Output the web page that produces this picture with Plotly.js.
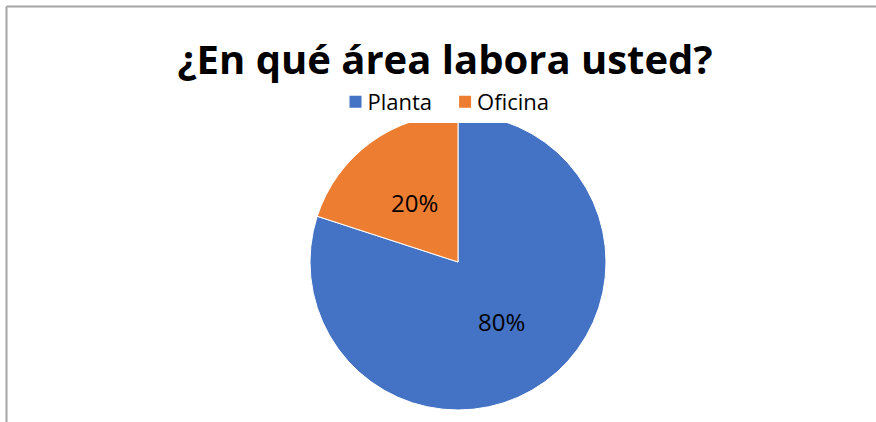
<!DOCTYPE html>
<html>
<head>
<meta charset="utf-8">
<script src="https://cdn.plot.ly/plotly-3.0.1.min.js"></script>
<style>
  html, body { margin: 0; padding: 0; background: #fff; }
  #chart { width: 876px; height: 422px; }
</style>
</head>
<body>
<div id="chart"></div>
<script>
const categories = ["Planta", "Oficina"];
const values = [80, 20];
const colors = ["#4472C4", "#ED7D31"];
const titleText = "¿En qué área labora usted?";

const W = 876, H = 422;
const CX = 458, CY = 262, R = 148;

const trace = {
  type: "pie",
  labels: categories,
  values: values,
  sort: false,
  direction: "clockwise",
  rotation: 0,
  marker: { colors: colors, line: { color: "#ffffff", width: 1 } },
  textinfo: "none",
  hoverinfo: "label+percent",
  domain: { x: [(CX - R) / W, (CX + R) / W], y: [1 - (CY + R) / H, 1 - (CY - R) / H] }
};

// percent labels placed Excel-style at half radius along each slice's mid-angle
const total = values.reduce((a, b) => a + b, 0);
const annotations = [];
let acc = 0;
values.forEach((v, i) => {
  const mid = (acc + v / 2) / total * 2 * Math.PI; // clockwise from 12 o'clock
  acc += v;
  const px = CX + 0.5 * R * Math.sin(mid);
  const py = CY - 0.5 * R * Math.cos(mid);
  annotations.push({
    xref: "paper", yref: "paper",
    x: px / W, y: 1 - py / H,
    xanchor: "center", yanchor: "middle",
    showarrow: false,
    text: Math.round(v / total * 100) + "%",
    font: { family: "Open Sans, sans-serif", size: 24, color: "#000000" }
  });
});

const layout = {
  width: W, height: H,
  margin: { l: 0, r: 0, t: 0, b: 0 },
  paper_bgcolor: "#ffffff",
  showlegend: true,
  title: {
    text: "<b>" + titleText + "</b>",
    font: { family: "Open Sans, sans-serif", size: 40, color: "#000000" },
    x: 445 / W, xanchor: "center",
    y: 1 - 60 / H, yanchor: "middle", yref: "paper"
  },
  legend: {
    orientation: "h",
    x: 441 / W, xanchor: "center",
    y: 1 - 102 / H, yanchor: "middle",
    font: { family: "Open Sans, sans-serif", size: 22, color: "#000000" },
    traceorder: "normal",
    itemclick: false
  },
  annotations: annotations,
  shapes: [
    { type: "line", xref: "paper", yref: "paper", x0: 6.5 / W, x1: 1, y0: 1 - 6.5 / H, y1: 1 - 6.5 / H, line: { color: "#a6a6a6", width: 2 } },
    { type: "line", xref: "paper", yref: "paper", x0: 6.5 / W, x1: 6.5 / W, y0: 0, y1: 1 - 6.5 / H, line: { color: "#a6a6a6", width: 2 } }
  ]
};

Plotly.newPlot("chart", [trace], layout, { displayModeBar: false, staticPlot: true }).then(function (gd) {
  // Excel-like legend swatches: 12px squares, no outline, close to the text
  gd.querySelectorAll(".legendpoints path").forEach(function (p) {
    p.setAttribute("d", "M6,6H-6V-6H6Z");
    p.setAttribute("transform", "translate(28,0)");
    p.style.strokeWidth = "0px";
  });
});
</script>
</body>
</html>
